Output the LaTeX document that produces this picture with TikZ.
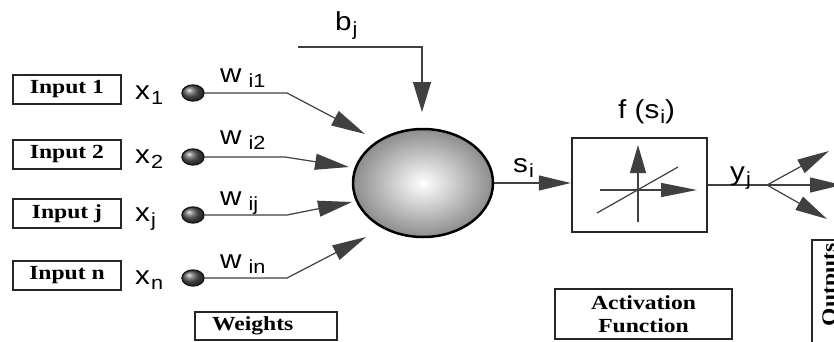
\documentclass[tikz,border=0pt]{standalone}
\usepackage{fontspec}
\setmainfont{Liberation Serif}
\newfontfamily\serw[FakeStretch=1.18]{Liberation Serif Bold}
\newfontfamily\sanw[FakeStretch=1.14]{Liberation Sans}
\usetikzlibrary{arrows.meta,shapes.geometric}
\newcommand\sbs[2][1pt]{\hspace{#1}\raisebox{-5pt}{\fontsize{19}{19}\selectfont #2}}
\tikzset{
  txtbox/.style={draw=black!85, line width=2pt, fill=white, font=\serw\fontsize{20}{23}\selectfont, inner sep=0pt},
  lab/.style={font=\sanw\fontsize{26}{26}\selectfont, anchor=base west, inner sep=0pt},
  conn/.style={line width=1.2pt, draw=black!75},
  intip/.style={-{Triangle[length=34pt,width=16pt]}},
  biastip/.style={-{Triangle[length=30pt,width=18pt]}},
  outtip/.style={-{Triangle[length=32pt,width=15pt]}},
  ballnode/.style={ellipse, draw=black!90, line width=1.4pt, minimum width=22pt, minimum height=16pt, inner sep=0pt, ball color=gray!70!black},
}
\begin{document}
\begin{tikzpicture}[x=1pt,y=-1pt]
\useasboundingbox (0,0) rectangle (834,341);
\clip (0,0) rectangle (834,341);
\fill[white] (0,0) rectangle (834,341);

% input boxes
\node[txtbox, minimum width=108pt, minimum height=29pt] (in1) at (67,89) {Input 1};
\node[txtbox, minimum width=108pt, minimum height=29pt] (in2) at (67,154) {Input 2};
\node[txtbox, minimum width=108pt, minimum height=29pt] (inj) at (67,213.5) {Input j};
\node[txtbox, minimum width=108pt, minimum height=29pt] (inn) at (67,275) {Input n};

% x labels
\node[lab] (x1) at (135,99) {x\sbs{1}};
\node[lab] (x2) at (135,163) {x\sbs{2}};
\node[lab] (xj) at (135,221) {x\sbs{j}};
\node[lab] (xn) at (135,284) {x\sbs{n}};

% balls
\node[ballnode] (b1) at (193,93) {};
\node[ballnode] (b2) at (193,157) {};
\node[ballnode] (bj) at (193,215) {};
\node[ballnode] (bn) at (193,278) {};

% weights labels
\node[lab] (w1) at (220,82) {w\sbs[7pt]{i1}};
\node[lab] (w2) at (220,144) {w\sbs[7pt]{i2}};
\node[lab] (wj) at (220,205) {w\sbs[7pt]{ij}};
\node[lab] (wn) at (220,268) {w\sbs[7pt]{in}};

% neuron
\node[ellipse, draw=black, line width=2.5pt, minimum width=140pt, minimum height=108pt, inner sep=0pt,
      inner color=white, outer color=gray!90] (neuron) at (423,183) {};

% input connectors
\coordinate (k1) at (287,93);  \coordinate (t1) at (365,134);
\coordinate (k2) at (285,157); \coordinate (t2) at (349,167);
\coordinate (kj) at (287,215); \coordinate (tj) at (352,202);
\coordinate (kn) at (287,278); \coordinate (tn) at (366,237);
\draw[conn, intip] (b1.east) -- (k1) -- (t1);
\draw[conn, intip] (b2.east) -- (k2) -- (t2);
\draw[conn, intip] (bj.east) -- (kj) -- (tj);
\draw[conn, intip] (bn.east) -- (kn) -- (tn);

% bias
\node[lab] (bias) at (335,30) {b\sbs{j}};
\coordinate (bs) at (298,47);
\coordinate (bt) at (422,112);
\draw[conn, biastip] (bs) -| (bt);

% activation box
\node[draw=black!85, line width=2.5pt, minimum width=135pt, minimum height=94pt, inner sep=0pt] (act) at (639.5,185) {};
\node[lab] (fs) at (618,118) {f (s\sbs{i})};
\draw[conn, outtip] (neuron.east) -- (neuron.east -| act.west);
\node[lab] (si) at (513,172) {s\sbs{i}};

% inside activation
\draw[conn, -{Triangle[length=28pt,width=16pt]}] (638,222) -- (638,145);
\draw[conn, -{Triangle[length=36pt,width=14pt]}] (600,190) -- (697,190);
\draw[conn] (597,213) -- (678,167);

% output fan
\coordinate (fan) at (767,185);
\draw[conn] (act.east |- fan) -- (fan);
\node[lab] (yj) at (730,180) {y\sbs{j}};
\coordinate (o1) at (829,151);
\coordinate (o2) at (842,185);
\coordinate (o3) at (827,219);
\draw[conn, outtip] (fan) -- (o1);
\draw[conn, outtip] (fan) -- (o2);
\draw[conn, outtip] (fan) -- (o3);

% bottom boxes
\node[txtbox, text width=108pt, align=left, inner xsep=17pt, minimum height=28pt] (weights) at (266,326) {Weights};
\node[txtbox, minimum width=177pt, minimum height=50pt, align=center] (actf) at (643.5,314) {Activation\\Function};
\node[txtbox, minimum width=50pt, minimum height=130pt] (outbox) at (837,305) {};
\node[font=\serw\fontsize{20}{23}\selectfont, rotate=90, inner sep=0pt] (outs) at (831,285) {Outputs};
\end{tikzpicture}
\end{document}
